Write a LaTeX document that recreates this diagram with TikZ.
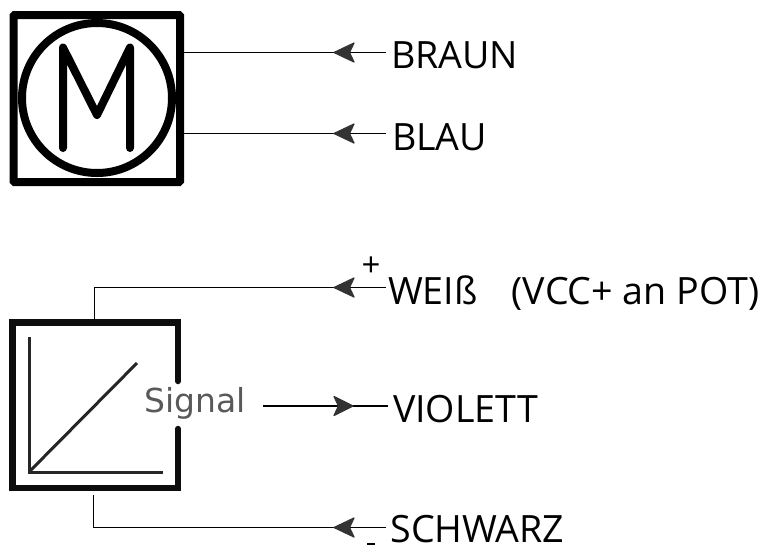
\documentclass[tikz,border=0pt]{standalone}
\usepackage{fontspec}
\setmainfont{Open Sans}
\newfontfamily\sigfont{DejaVu Sans}
\tikzset{
  x=1pt,y=-1pt,
  wire/.style={line width=1.1pt,black},
  tipl/.pic={\filldraw[black!80,line width=1.2pt,line join=round] (1,0) -- (21,-9.5) -- (16.5,0) -- (21,9.5) -- cycle;},
  tipr/.pic={\filldraw[black!80,line width=1.2pt,line join=round] (-1,0) -- (-20,-9.5) -- (-15.5,0) -- (-20,9.5) -- cycle;},
  boxedge/.style={line width=8pt,black,rounded corners=1pt},
  sensoredge/.style={line width=6.5pt,black!95,line cap=round},
  plotline/.style={line width=3pt,black!85},
  lab/.style={font=\fontsize{37.6}{37.6}\selectfont,anchor=base west,inner sep=0pt,outer sep=0pt},
}
\begin{document}
\begin{tikzpicture}
\useasboundingbox (0,0) rectangle (766,547);
% motor
\draw[boxedge] (13.5,15) rectangle (180,182);
\draw[line width=8pt,black] (97,98) circle (75);
\draw[line width=8pt,black,line cap=round,line join=round] (63,148) -- (63,47.5) -- (97,115) -- (130,47.5) -- (130,148);
% sensor
\draw[sensoredge,line cap=butt,line join=miter] (178,382) -- (178,322.5) -- (12.5,322.5) -- (12.5,488) -- (178,488) -- (178,428);
\draw[sensoredge] (178,380) -- (178,381);
\draw[sensoredge] (178,429) -- (178,430);
\draw[plotline,line join=miter] (29,337) -- (29,472) -- (163,472);
\draw[plotline] (30,471) -- (137,363);
\node[text=black!65,font=\sigfont\fontsize{33}{33}\selectfont,anchor=base west,inner sep=0pt] (signal) at (144,412.5) {Signal};
% labels
\node[lab] (braun) at (391,68) {BRAUN};
\node[lab] (blau) at (392,150) {BLAU};
\node[lab] (weiss) at (388,304) {WEIß\hspace{24.5pt} (VCC+ an POT)};
\node[lab] (violett) at (393,422) {VIOLETT};
\node[lab] (schwarz) at (390.5,542) {SCHWARZ};
\node[font=\fontsize{33}{33}\selectfont,inner sep=0pt] (plus) at (371,267) {+};
\node[fill=black,minimum width=8pt,minimum height=1.5pt,inner sep=0pt] (minus) at (371,544) {};
% wire ends
\coordinate (mA) at (184,52.5);
\coordinate (mB) at (184,133.5);
\coordinate (bA) at (386,52.5);
\coordinate (bB) at (386,133.5);
\coordinate (wA) at (386,287.5);
\coordinate (wC) at (94.5,287.5);
\coordinate (wD) at (94.5,320);
\coordinate (vA) at (263,406);
\coordinate (vB) at (388,406);
\coordinate (sA) at (386,527.5);
\coordinate (sC) at (93.5,527.5);
\coordinate (sD) at (93.5,495);
\draw[wire] (bA) -- (mA);
\draw[wire] (bB) -- (mB);
\draw[wire] (wA) -- (wC) -- (wD);
\draw[wire] (vA) -- (vB);
\draw[wire] (sA) -- (sC) -- (sD);
\pic at (333,52.5) {tipl};
\pic at (333,133.5) {tipl};
\pic at (333,287.5) {tipl};
\pic at (354,406) {tipr};
\pic at (333,527.5) {tipl};
\end{tikzpicture}
\end{document}
